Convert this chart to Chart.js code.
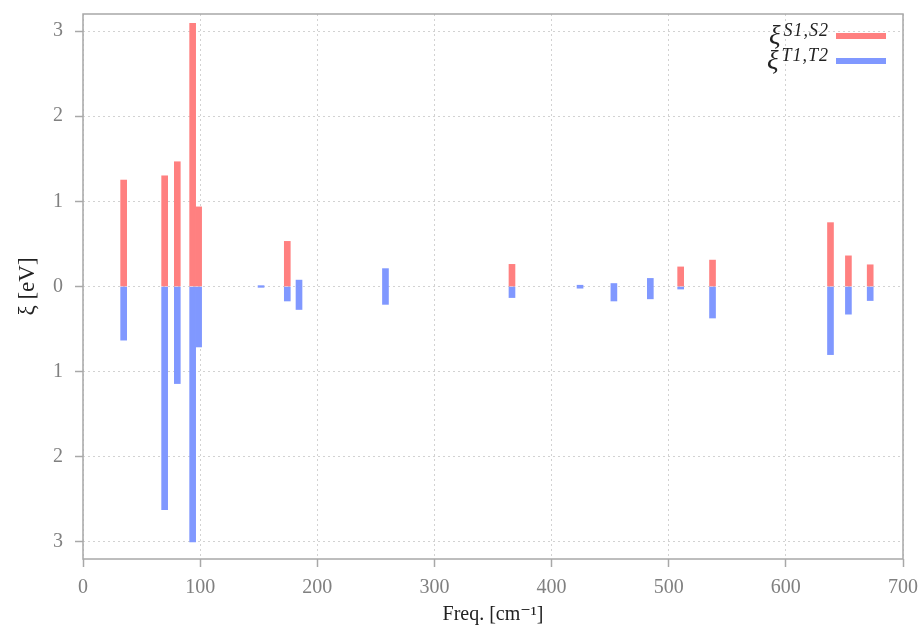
<!DOCTYPE html>
<html>
<head>
<meta charset="utf-8">
<script src="https://cdn.jsdelivr.net/npm/chart.js@4/dist/chart.umd.min.js"></script>
<style>
  html, body { margin: 0; padding: 0; background: #fff; }
  #wrap { width: 923px; height: 630px; }
</style>
</head>
<body>
<div id="wrap"><canvas id="xiChart" width="923" height="630"></canvas></div>
<script>
"use strict";

// vibrational mode frequencies (cm-1)
const freqs = [34.7, 69.7, 80.5, 93.6, 98.7, 152, 174.4, 184.4, 258.2, 366.2, 424.3, 453.2, 484.3, 510.2, 537.4, 638.1, 653.4, 672.0];
// xi for S1,S2 (red, drawn up from zero)
const xiSinglet = [1.25, 1.30, 1.465, 3.09, 0.935, null, 0.53, null, null, 0.26, null, null, null, 0.23, 0.31, 0.75, 0.36, 0.255];
// xi for T1,T2 (blue), low and high ends of each bar
const xiTripletLow = [-0.63, -2.62, -1.14, -3.0, -0.71, -0.01, -0.17, -0.27, -0.21, -0.13, -0.02, -0.17, -0.145, -0.03, -0.37, -0.80, -0.325, -0.165];
const xiTripletHigh = [0, 0, 0, 0, 0, 0.01, 0, 0.075, 0.21, 0, 0.015, 0.035, 0.095, 0, 0, 0, 0, 0];

const xTicks = [0, 100, 200, 300, 400, 500, 600, 700];
const yTicks = [-3, -2, -1, 0, 1, 2, 3];

const RED = "#ff8080";
const BLUE = "#8098ff";
const FRAME = "#a8a8a8";
const SERIF = "'Liberation Serif', 'DejaVu Serif', serif";

const framePlugin = {
  id: "frame",
  afterDatasetsDraw(chart) {
    const { ctx, chartArea: a } = chart;
    ctx.save();
    ctx.strokeStyle = FRAME;
    ctx.lineWidth = 1.5;
    ctx.strokeRect(a.left, a.top, a.right - a.left, a.bottom - a.top);
    ctx.restore();
  }
};

function drawLegendRow(ctx, y, sup, color) {
  const right = 829;
  ctx.font = "italic 18px " + SERIF;
  ctx.letterSpacing = "1px";
  const supW = ctx.measureText(sup).width;
  ctx.fillStyle = "#222";
  ctx.textAlign = "left";
  ctx.textBaseline = "alphabetic";
  ctx.fillText(sup, right - supW, y);
  ctx.letterSpacing = "0px";
  ctx.font = "italic 27px " + SERIF;
  const xiW = ctx.measureText("ξ").width;
  ctx.fillText("ξ", right - supW - xiW - 3, y + 8);
  ctx.strokeStyle = color;
  ctx.lineWidth = 6;
  ctx.beginPath();
  ctx.moveTo(836, y);
  ctx.lineTo(886, y);
  ctx.stroke();
}

const legendPlugin = {
  id: "xiLegend",
  afterDraw(chart) {
    const ctx = chart.ctx;
    ctx.save();
    drawLegendRow(ctx, 36, "S1,S2", RED);
    drawLegendRow(ctx, 61, "T1,T2", BLUE);
    ctx.restore();
  }
};

new Chart(document.getElementById("xiChart"), {
  type: "bar",
  data: {
    datasets: [
      {
        label: "xi S1,S2",
        data: freqs.map((f, i) => ({ x: f, y: xiSinglet[i] })),
        backgroundColor: RED,
        borderWidth: 0
      },
      {
        label: "xi T1,T2",
        data: freqs.map((f, i) => ({ x: f, y: [xiTripletLow[i], xiTripletHigh[i]] })),
        backgroundColor: BLUE,
        borderWidth: 0
      }
    ]
  },
  options: {
    responsive: false,
    animation: false,
    grouped: false,
    barThickness: 6,
    layout: { padding: { top: 14, right: 20, left: 0, bottom: 0 } },
    plugins: {
      legend: { display: false },
      tooltip: { enabled: false }
    },
    scales: {
      x: {
        type: "linear",
        min: 0,
        max: 700,
        offset: false,
        afterBuildTicks: (scale) => { scale.ticks = xTicks.map((v) => ({ value: v })); },
        afterFit: (scale) => {
          scale.height = 71;
          scale.paddingLeft = 0;
          scale.paddingRight = 0;
        },
        grid: {
          offset: false,
          color: "#d2d2d2",
          lineWidth: 1,
          tickColor: FRAME,
          tickWidth: 1.5,
          tickLength: 8
        },
        border: { display: false, dash: [2, 3] },
        ticks: {
          color: "#808080",
          padding: 9,
          maxRotation: 0,
          font: { family: SERIF, size: 20 }
        },
        title: {
          display: true,
          text: "Freq. [cm⁻¹]",
          color: "#222",
          padding: { top: 3, bottom: 3 },
          font: { family: SERIF, size: 20 }
        }
      },
      y: {
        min: -3.2,
        max: 3.2,
        afterBuildTicks: (scale) => { scale.ticks = yTicks.map((v) => ({ value: v })); },
        afterFit: (scale) => {
          scale.width = 83;
          scale.paddingTop = 0;
          scale.paddingBottom = 0;
        },
        grid: {
          color: "#d2d2d2",
          lineWidth: 1,
          tickColor: FRAME,
          tickWidth: 1.5,
          tickLength: 8
        },
        border: { display: false, dash: [2, 3] },
        ticks: {
          color: "#808080",
          padding: 12,
          callback: (v) => Math.abs(v),
          font: { family: SERIF, size: 20 }
        },
        title: {
          display: true,
          text: "ξ [eV]",
          color: "#222",
          padding: { top: 14, bottom: 0 },
          font: { family: SERIF, size: 23 }
        }
      }
    }
  },
  plugins: [framePlugin, legendPlugin]
});
</script>
</body>
</html>
